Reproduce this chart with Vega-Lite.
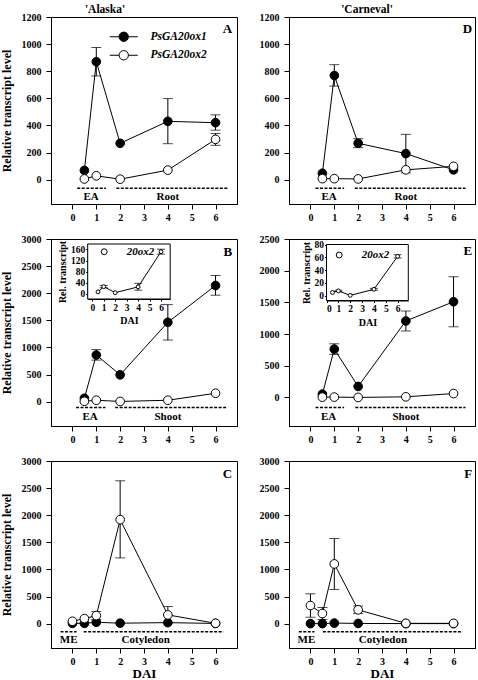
{
 "$schema": "https://vega.github.io/schema/vega-lite/v6.json",
 "autosize": {"type": "none"},
 "padding": {"left": 51, "top": 17, "right": 427, "bottom": 663},
 "config": {
  "font": "Liberation Serif",
  "view": {"stroke": "black", "strokeWidth": 1},
  "axis": {"grid": false, "labelOverlap": false, "labelSeparation": -60, "tickCount": 7, "domainColor": "black", "tickColor": "black", "labelColor": "black", "titleColor": "black", "labelFont": "Liberation Serif", "titleFont": "Liberation Serif", "labelFontWeight": "bold", "labelFontSize": 10, "titleFontWeight": "bold", "tickSize": 5, "labelPadding": 5, "domainWidth": 1, "tickWidth": 1},
  "title": {"font": "Liberation Serif", "fontSize": 11.5, "fontWeight": "bold", "color": "black", "offset": -3.5, "baseline": "bottom", "frame": "group", "anchor": "middle"},
  "text": {"font": "Liberation Serif", "color": "black"},
  "legend": {"labelFont": "Liberation Serif", "labelColor": "black", "padding": 0}
 },
 "datasets": {
  "main": [
   {"panel": "A", "gene": "PsGA20ox1", "dai": 0.5, "value": 68},
   {"panel": "A", "gene": "PsGA20ox1", "dai": 1, "value": 870, "lo": 765, "hi": 975},
   {"panel": "A", "gene": "PsGA20ox1", "dai": 2, "value": 268},
   {"panel": "A", "gene": "PsGA20ox1", "dai": 4, "value": 430, "lo": 265, "hi": 598},
   {"panel": "A", "gene": "PsGA20ox1", "dai": 6, "value": 420, "lo": 365, "hi": 478},
   {"panel": "A", "gene": "PsGA20ox2", "dai": 0.5, "value": 5},
   {"panel": "A", "gene": "PsGA20ox2", "dai": 1, "value": 28},
   {"panel": "A", "gene": "PsGA20ox2", "dai": 2, "value": 3},
   {"panel": "A", "gene": "PsGA20ox2", "dai": 4, "value": 70},
   {"panel": "A", "gene": "PsGA20ox2", "dai": 6, "value": 297, "lo": 253, "hi": 340},
   {"panel": "D", "gene": "PsGA20ox1", "dai": 0.5, "value": 47},
   {"panel": "D", "gene": "PsGA20ox1", "dai": 1, "value": 768, "lo": 690, "hi": 848},
   {"panel": "D", "gene": "PsGA20ox1", "dai": 2, "value": 268, "lo": 236, "hi": 302},
   {"panel": "D", "gene": "PsGA20ox1", "dai": 4, "value": 192, "lo": 50, "hi": 334},
   {"panel": "D", "gene": "PsGA20ox1", "dai": 6, "value": 72},
   {"panel": "D", "gene": "PsGA20ox2", "dai": 0.5, "value": 7},
   {"panel": "D", "gene": "PsGA20ox2", "dai": 1, "value": 7},
   {"panel": "D", "gene": "PsGA20ox2", "dai": 2, "value": 5},
   {"panel": "D", "gene": "PsGA20ox2", "dai": 4, "value": 72},
   {"panel": "D", "gene": "PsGA20ox2", "dai": 6, "value": 98},
   {"panel": "B", "gene": "PsGA20ox1", "dai": 0.5, "value": 62},
   {"panel": "B", "gene": "PsGA20ox1", "dai": 1, "value": 860, "lo": 765, "hi": 960},
   {"panel": "B", "gene": "PsGA20ox1", "dai": 2, "value": 494},
   {"panel": "B", "gene": "PsGA20ox1", "dai": 4, "value": 1463, "lo": 1136, "hi": 1790},
   {"panel": "B", "gene": "PsGA20ox1", "dai": 6, "value": 2142, "lo": 1963, "hi": 2327},
   {"panel": "B", "gene": "PsGA20ox2", "dai": 0.5, "value": 6},
   {"panel": "B", "gene": "PsGA20ox2", "dai": 1, "value": 25},
   {"panel": "B", "gene": "PsGA20ox2", "dai": 2, "value": 3},
   {"panel": "B", "gene": "PsGA20ox2", "dai": 4, "value": 25},
   {"panel": "B", "gene": "PsGA20ox2", "dai": 6, "value": 154},
   {"panel": "E", "gene": "PsGA20ox1", "dai": 0.5, "value": 53},
   {"panel": "E", "gene": "PsGA20ox1", "dai": 1, "value": 763, "lo": 680, "hi": 847},
   {"panel": "E", "gene": "PsGA20ox1", "dai": 2, "value": 174},
   {"panel": "E", "gene": "PsGA20ox1", "dai": 4, "value": 1207, "lo": 1049, "hi": 1364},
   {"panel": "E", "gene": "PsGA20ox1", "dai": 6, "value": 1510, "lo": 1115, "hi": 1905},
   {"panel": "E", "gene": "PsGA20ox2", "dai": 0.5, "value": 5},
   {"panel": "E", "gene": "PsGA20ox2", "dai": 1, "value": 6},
   {"panel": "E", "gene": "PsGA20ox2", "dai": 2, "value": 1},
   {"panel": "E", "gene": "PsGA20ox2", "dai": 4, "value": 10},
   {"panel": "E", "gene": "PsGA20ox2", "dai": 6, "value": 62},
   {"panel": "C", "gene": "PsGA20ox1", "dai": 0, "value": 5},
   {"panel": "C", "gene": "PsGA20ox1", "dai": 0.5, "value": 5},
   {"panel": "C", "gene": "PsGA20ox1", "dai": 1, "value": 25},
   {"panel": "C", "gene": "PsGA20ox1", "dai": 2, "value": 8},
   {"panel": "C", "gene": "PsGA20ox1", "dai": 4, "value": 18},
   {"panel": "C", "gene": "PsGA20ox1", "dai": 6, "value": 3},
   {"panel": "C", "gene": "PsGA20ox2", "dai": 0, "value": 43},
   {"panel": "C", "gene": "PsGA20ox2", "dai": 0.5, "value": 93},
   {"panel": "C", "gene": "PsGA20ox2", "dai": 1, "value": 148, "lo": 73, "hi": 223},
   {"panel": "C", "gene": "PsGA20ox2", "dai": 2, "value": 1918, "lo": 1212, "hi": 2635},
   {"panel": "C", "gene": "PsGA20ox2", "dai": 4, "value": 161, "lo": 7, "hi": 315},
   {"panel": "C", "gene": "PsGA20ox2", "dai": 6, "value": 6},
   {"panel": "F", "gene": "PsGA20ox1", "dai": 0, "value": 0},
   {"panel": "F", "gene": "PsGA20ox1", "dai": 0.5, "value": 0},
   {"panel": "F", "gene": "PsGA20ox1", "dai": 1, "value": 10},
   {"panel": "F", "gene": "PsGA20ox1", "dai": 2, "value": 3},
   {"panel": "F", "gene": "PsGA20ox1", "dai": 4, "value": 0},
   {"panel": "F", "gene": "PsGA20ox1", "dai": 6, "value": 0},
   {"panel": "F", "gene": "PsGA20ox2", "dai": 0, "value": 334, "lo": 118, "hi": 550},
   {"panel": "F", "gene": "PsGA20ox2", "dai": 0.5, "value": 186, "lo": 75, "hi": 297},
   {"panel": "F", "gene": "PsGA20ox2", "dai": 1, "value": 1101, "lo": 630, "hi": 1570},
   {"panel": "F", "gene": "PsGA20ox2", "dai": 2, "value": 254, "lo": 185, "hi": 325},
   {"panel": "F", "gene": "PsGA20ox2", "dai": 4, "value": 5},
   {"panel": "F", "gene": "PsGA20ox2", "dai": 6, "value": 5}
  ],
  "inset": [
   {"panel": "B", "gene": "20ox2", "dai": 0.5, "value": 6},
   {"panel": "B", "gene": "20ox2", "dai": 1, "value": 25, "lo": 21, "hi": 29},
   {"panel": "B", "gene": "20ox2", "dai": 2, "value": 3},
   {"panel": "B", "gene": "20ox2", "dai": 4, "value": 24, "lo": 12, "hi": 37},
   {"panel": "B", "gene": "20ox2", "dai": 6, "value": 152, "lo": 143, "hi": 161},
   {"panel": "E", "gene": "20ox2", "dai": 0.5, "value": 5},
   {"panel": "E", "gene": "20ox2", "dai": 1, "value": 7.5, "lo": 6.5, "hi": 8.5},
   {"panel": "E", "gene": "20ox2", "dai": 2, "value": 0.5},
   {"panel": "E", "gene": "20ox2", "dai": 4, "value": 10, "lo": 8.5, "hi": 11.5},
   {"panel": "E", "gene": "20ox2", "dai": 6, "value": 61.5, "lo": 59, "hi": 64}
  ],
  "stages": [
   {"panel": "A", "label": "EA", "start": 0.2, "end": 1.4, "mid": 0.78},
   {"panel": "A", "label": "Root", "start": 1.84, "end": 6.5, "mid": 4.0},
   {"panel": "D", "label": "EA", "start": 0.21, "end": 1.41, "mid": 0.78},
   {"panel": "D", "label": "Root", "start": 1.86, "end": 6.5, "mid": 4.0},
   {"panel": "B", "label": "EA", "start": 0.15, "end": 1.38, "mid": 0.74},
   {"panel": "B", "label": "Shoot", "start": 1.79, "end": 6.49, "mid": 4.0},
   {"panel": "E", "label": "EA", "start": 0.21, "end": 1.41, "mid": 0.76},
   {"panel": "E", "label": "Shoot", "start": 1.88, "end": 6.5, "mid": 4.0},
   {"panel": "C", "label": "ME", "start": -0.5, "end": 0.17, "mid": -0.16},
   {"panel": "C", "label": "Cotyledon", "start": 0.47, "end": 6.33, "mid": 3.07},
   {"panel": "F", "label": "ME", "start": -0.49, "end": 0.17, "mid": -0.17},
   {"panel": "F", "label": "Cotyledon", "start": 0.52, "end": 6.38, "mid": 3.04}
  ],
  "panels": [
   {"panel": "A", "letter": "A"}, {"panel": "B", "letter": "B"}, {"panel": "C", "letter": "C"},
   {"panel": "D", "letter": "D"}, {"panel": "E", "letter": "E"}, {"panel": "F", "letter": "F"}
  ]
 },
 "columns": 2,
 "spacing": {"row": 35, "column": 52},
 "bounds": "flush",
 "resolve": {"scale": {"x": "independent", "y": "independent", "fill": "independent"}, "legend": {"fill": "independent"}},
 "concat": [
  {
   "width": 186, "height": 187,
   "title": {"text": "'Alaska'", "dx": -39},
   "layer": [
    {"data": {"name": "stages"}, "transform": [{"filter": "datum.panel === 'A'"}],
     "mark": {"type": "rule", "strokeDash": [3, 1.5], "strokeWidth": 1.6, "color": "black"},
     "encoding": {"x": {"field": "start", "type": "quantitative", "scale": {"domain": [-0.9, 6.9], "nice": false, "zero": false}}, "x2": {"field": "end"},
      "y": {"datum": -64, "type": "quantitative", "scale": {"domain": [-180, 1200], "nice": false, "zero": false}}}},
    {"data": {"name": "stages"}, "transform": [{"filter": "datum.panel === 'A'"}],
     "mark": {"type": "text", "fontWeight": "bold", "fontSize": 11, "align": "center", "baseline": "middle"},
     "encoding": {"x": {"field": "mid", "type": "quantitative", "scale": {"domain": [-0.9, 6.9], "nice": false, "zero": false}},
      "y": {"datum": -131, "type": "quantitative", "scale": {"domain": [-180, 1200], "nice": false, "zero": false}}, "text": {"field": "label"}}},
    {"data": {"name": "main"}, "transform": [{"filter": "datum.panel === 'A' && isValid(datum.hi)"}],
     "mark": {"type": "rule", "color": "black", "strokeWidth": 1},
     "encoding": {"x": {"field": "dai", "type": "quantitative", "scale": {"domain": [-0.9, 6.9], "nice": false, "zero": false}},
      "y": {"field": "lo", "type": "quantitative", "scale": {"domain": [-180, 1200], "nice": false, "zero": false}}, "y2": {"field": "hi"}}},
    {"data": {"name": "main"}, "transform": [{"filter": "datum.panel === 'A' && isValid(datum.hi)"}],
     "mark": {"type": "tick", "orient": "horizontal", "size": 10, "thickness": 1, "color": "black"},
     "encoding": {"x": {"field": "dai", "type": "quantitative", "scale": {"domain": [-0.9, 6.9], "nice": false, "zero": false}},
      "y": {"field": "lo", "type": "quantitative", "scale": {"domain": [-180, 1200], "nice": false, "zero": false}}}},
    {"data": {"name": "main"}, "transform": [{"filter": "datum.panel === 'A' && isValid(datum.hi)"}],
     "mark": {"type": "tick", "orient": "horizontal", "size": 10, "thickness": 1, "color": "black"},
     "encoding": {"x": {"field": "dai", "type": "quantitative", "scale": {"domain": [-0.9, 6.9], "nice": false, "zero": false}},
      "y": {"field": "hi", "type": "quantitative", "scale": {"domain": [-180, 1200], "nice": false, "zero": false}}}},
    {"data": {"name": "main"}, "transform": [{"filter": "datum.panel === 'A'"}],
     "mark": {"type": "line", "color": "black", "strokeWidth": 1},
     "encoding": {"x": {"field": "dai", "type": "quantitative", "scale": {"domain": [-0.9, 6.9], "nice": false, "zero": false}},
      "y": {"field": "value", "type": "quantitative", "scale": {"domain": [-180, 1200], "nice": false, "zero": false}}, "detail": {"field": "gene"}}},
    {"data": {"name": "main"}, "transform": [{"filter": "datum.panel === 'A'"}],
     "mark": {"type": "point", "shape": "circle", "filled": true, "stroke": "black", "strokeWidth": 1, "size": 75, "opacity": 1},
     "encoding": {"x": {"field": "dai", "type": "quantitative", "scale": {"domain": [-0.9, 6.9], "nice": false, "zero": false}, "axis": {"values": [0, 1, 2, 3, 4, 5, 6], "labelOverlap": false, "format": "d", "title": null, "labelPadding": 3.5}},
      "y": {"field": "value", "type": "quantitative", "scale": {"domain": [-180, 1200], "nice": false, "zero": false}, "axis": {"values": [0, 200, 400, 600, 800, 1000, 1200], "labelOverlap": false, "format": "d", "title": "Relative transcript level", "titleFontSize": 12, "titlePadding": 8}},
      "fill": {"field": "gene", "type": "nominal", "scale": {"domain": ["PsGA20ox1", "PsGA20ox2"], "range": ["black", "white"]},
       "legend": {"orient": "none", "legendX": 67, "legendY": 14, "title": null, "symbolType": "M-3,0L-1,0M1,0L3,0M-1,0A1,1,0,1,1,1,0A1,1,0,1,1,-1,0Z", "symbolSize": 87, "symbolStrokeColor": "black", "symbolStrokeWidth": 1, "labelFontStyle": "italic", "labelFontWeight": "bold", "labelFontSize": 11.5, "labelOffset": 21, "rowPadding": 4.5}}}},
    {"data": {"name": "panels"}, "transform": [{"filter": "datum.panel === 'A'"}],
     "mark": {"type": "text", "fontWeight": "bold", "fontSize": 13, "align": "right", "baseline": "middle"},
     "encoding": {"x": {"datum": 6.7, "type": "quantitative", "scale": {"domain": [-0.9, 6.9], "nice": false, "zero": false}},
      "y": {"datum": 1108, "type": "quantitative", "scale": {"domain": [-180, 1200], "nice": false, "zero": false}}, "text": {"field": "letter"}}}
   ]
  },
  {
   "width": 186, "height": 187,
   "title": {"text": "'Carneval'", "dx": -15},
   "layer": [
    {"data": {"name": "stages"}, "transform": [{"filter": "datum.panel === 'D'"}],
     "mark": {"type": "rule", "strokeDash": [3, 1.5], "strokeWidth": 1.6, "color": "black"},
     "encoding": {"x": {"field": "start", "type": "quantitative", "scale": {"domain": [-0.9, 6.9], "nice": false, "zero": false}}, "x2": {"field": "end"},
      "y": {"datum": -64, "type": "quantitative", "scale": {"domain": [-180, 1200], "nice": false, "zero": false}}}},
    {"data": {"name": "stages"}, "transform": [{"filter": "datum.panel === 'D'"}],
     "mark": {"type": "text", "fontWeight": "bold", "fontSize": 11, "align": "center", "baseline": "middle"},
     "encoding": {"x": {"field": "mid", "type": "quantitative", "scale": {"domain": [-0.9, 6.9], "nice": false, "zero": false}},
      "y": {"datum": -131, "type": "quantitative", "scale": {"domain": [-180, 1200], "nice": false, "zero": false}}, "text": {"field": "label"}}},
    {"data": {"name": "main"}, "transform": [{"filter": "datum.panel === 'D' && isValid(datum.hi)"}],
     "mark": {"type": "rule", "color": "black", "strokeWidth": 1},
     "encoding": {"x": {"field": "dai", "type": "quantitative", "scale": {"domain": [-0.9, 6.9], "nice": false, "zero": false}},
      "y": {"field": "lo", "type": "quantitative", "scale": {"domain": [-180, 1200], "nice": false, "zero": false}}, "y2": {"field": "hi"}}},
    {"data": {"name": "main"}, "transform": [{"filter": "datum.panel === 'D' && isValid(datum.hi)"}],
     "mark": {"type": "tick", "orient": "horizontal", "size": 10, "thickness": 1, "color": "black"},
     "encoding": {"x": {"field": "dai", "type": "quantitative", "scale": {"domain": [-0.9, 6.9], "nice": false, "zero": false}},
      "y": {"field": "lo", "type": "quantitative", "scale": {"domain": [-180, 1200], "nice": false, "zero": false}}}},
    {"data": {"name": "main"}, "transform": [{"filter": "datum.panel === 'D' && isValid(datum.hi)"}],
     "mark": {"type": "tick", "orient": "horizontal", "size": 10, "thickness": 1, "color": "black"},
     "encoding": {"x": {"field": "dai", "type": "quantitative", "scale": {"domain": [-0.9, 6.9], "nice": false, "zero": false}},
      "y": {"field": "hi", "type": "quantitative", "scale": {"domain": [-180, 1200], "nice": false, "zero": false}}}},
    {"data": {"name": "main"}, "transform": [{"filter": "datum.panel === 'D'"}],
     "mark": {"type": "line", "color": "black", "strokeWidth": 1},
     "encoding": {"x": {"field": "dai", "type": "quantitative", "scale": {"domain": [-0.9, 6.9], "nice": false, "zero": false}},
      "y": {"field": "value", "type": "quantitative", "scale": {"domain": [-180, 1200], "nice": false, "zero": false}}, "detail": {"field": "gene"}}},
    {"data": {"name": "main"}, "transform": [{"filter": "datum.panel === 'D'"}],
     "mark": {"type": "point", "shape": "circle", "filled": true, "stroke": "black", "strokeWidth": 1, "size": 75, "opacity": 1},
     "encoding": {"x": {"field": "dai", "type": "quantitative", "scale": {"domain": [-0.9, 6.9], "nice": false, "zero": false}, "axis": {"values": [0, 1, 2, 3, 4, 5, 6], "labelOverlap": false, "format": "d", "title": null, "labelPadding": 3.5}},
      "y": {"field": "value", "type": "quantitative", "scale": {"domain": [-180, 1200], "nice": false, "zero": false}, "axis": {"values": [0, 200, 400, 600, 800, 1000, 1200], "labelOverlap": false, "format": "d", "title": null}},
      "fill": {"field": "gene", "type": "nominal", "scale": {"domain": ["PsGA20ox1", "PsGA20ox2"], "range": ["black", "white"]}, "legend": null}}},
    {"data": {"name": "panels"}, "transform": [{"filter": "datum.panel === 'D'"}],
     "mark": {"type": "text", "fontWeight": "bold", "fontSize": 13, "align": "right", "baseline": "middle"},
     "encoding": {"x": {"datum": 6.78, "type": "quantitative", "scale": {"domain": [-0.9, 6.9], "nice": false, "zero": false}},
      "y": {"datum": 1108, "type": "quantitative", "scale": {"domain": [-180, 1200], "nice": false, "zero": false}}, "text": {"field": "letter"}}}
   ]
  },
  {
   "width": 186, "height": 187,
   "resolve": {"scale": {"x": "independent", "y": "independent", "fill": "independent"}, "legend": {"fill": "independent"}},
   "layer": [
    {"layer": [
     {"data": {"name": "stages"}, "transform": [{"filter": "datum.panel === 'B'"}],
      "mark": {"type": "rule", "strokeDash": [3, 1.5], "strokeWidth": 1.6, "color": "black"},
      "encoding": {"x": {"field": "start", "type": "quantitative", "scale": {"domain": [-0.9, 6.9], "nice": false, "zero": false}}, "x2": {"field": "end"},
       "y": {"datum": -109, "type": "quantitative", "scale": {"domain": [-450, 3000], "nice": false, "zero": false}}}},
     {"data": {"name": "stages"}, "transform": [{"filter": "datum.panel === 'B'"}],
      "mark": {"type": "text", "fontWeight": "bold", "fontSize": 11, "align": "center", "baseline": "middle"},
      "encoding": {"x": {"field": "mid", "type": "quantitative", "scale": {"domain": [-0.9, 6.9], "nice": false, "zero": false}},
       "y": {"datum": -284, "type": "quantitative", "scale": {"domain": [-450, 3000], "nice": false, "zero": false}}, "text": {"field": "label"}}},
     {"data": {"name": "main"}, "transform": [{"filter": "datum.panel === 'B' && isValid(datum.hi)"}],
      "mark": {"type": "rule", "color": "black", "strokeWidth": 1},
      "encoding": {"x": {"field": "dai", "type": "quantitative", "scale": {"domain": [-0.9, 6.9], "nice": false, "zero": false}},
       "y": {"field": "lo", "type": "quantitative", "scale": {"domain": [-450, 3000], "nice": false, "zero": false}}, "y2": {"field": "hi"}}},
     {"data": {"name": "main"}, "transform": [{"filter": "datum.panel === 'B' && isValid(datum.hi)"}],
      "mark": {"type": "tick", "orient": "horizontal", "size": 10, "thickness": 1, "color": "black"},
      "encoding": {"x": {"field": "dai", "type": "quantitative", "scale": {"domain": [-0.9, 6.9], "nice": false, "zero": false}},
       "y": {"field": "lo", "type": "quantitative", "scale": {"domain": [-450, 3000], "nice": false, "zero": false}}}},
     {"data": {"name": "main"}, "transform": [{"filter": "datum.panel === 'B' && isValid(datum.hi)"}],
      "mark": {"type": "tick", "orient": "horizontal", "size": 10, "thickness": 1, "color": "black"},
      "encoding": {"x": {"field": "dai", "type": "quantitative", "scale": {"domain": [-0.9, 6.9], "nice": false, "zero": false}},
       "y": {"field": "hi", "type": "quantitative", "scale": {"domain": [-450, 3000], "nice": false, "zero": false}}}},
     {"data": {"name": "main"}, "transform": [{"filter": "datum.panel === 'B'"}],
      "mark": {"type": "line", "color": "black", "strokeWidth": 1},
      "encoding": {"x": {"field": "dai", "type": "quantitative", "scale": {"domain": [-0.9, 6.9], "nice": false, "zero": false}},
       "y": {"field": "value", "type": "quantitative", "scale": {"domain": [-450, 3000], "nice": false, "zero": false}}, "detail": {"field": "gene"}}},
     {"data": {"name": "main"}, "transform": [{"filter": "datum.panel === 'B'"}],
      "mark": {"type": "point", "shape": "circle", "filled": true, "stroke": "black", "strokeWidth": 1, "size": 75, "opacity": 1},
      "encoding": {"x": {"field": "dai", "type": "quantitative", "scale": {"domain": [-0.9, 6.9], "nice": false, "zero": false}, "axis": {"values": [0, 1, 2, 3, 4, 5, 6], "labelOverlap": false, "format": "d", "title": null, "labelPadding": 3.5}},
       "y": {"field": "value", "type": "quantitative", "scale": {"domain": [-450, 3000], "nice": false, "zero": false}, "axis": {"values": [0, 500, 1000, 1500, 2000, 2500, 3000], "labelOverlap": false, "format": "d", "title": "Relative transcript level", "titleFontSize": 12, "titlePadding": 8}},
       "fill": {"field": "gene", "type": "nominal", "scale": {"domain": ["PsGA20ox1", "PsGA20ox2"], "range": ["black", "white"]}, "legend": null}}},
     {"data": {"name": "panels"}, "transform": [{"filter": "datum.panel === 'B'"}],
      "mark": {"type": "text", "fontWeight": "bold", "fontSize": 13, "align": "right", "baseline": "middle"},
      "encoding": {"x": {"datum": 6.7, "type": "quantitative", "scale": {"domain": [-0.9, 6.9], "nice": false, "zero": false}},
       "y": {"datum": 2769, "type": "quantitative", "scale": {"domain": [-450, 3000], "nice": false, "zero": false}}, "text": {"field": "letter"}}}
    ]},
    {"layer": [
     {"data": {"name": "panels"}, "transform": [{"filter": "datum.panel === 'B'"}],
      "mark": {"type": "rect", "fill": "white", "stroke": "black", "strokeWidth": 1},
      "encoding": {"x": {"datum": -0.4, "type": "quantitative", "scale": {"domain": [-0.4, 6.8], "range": [36.7, 119.2], "nice": false, "zero": false},
        "axis": {"orient": "bottom", "offset": -127, "values": [0, 1, 2, 3, 4, 5, 6], "labelOverlap": false, "format": "d", "title": "DAI", "titleFontSize": 10, "labelFontSize": 9.5, "tickSize": 2, "labelPadding": 1, "titlePadding": 4}},
       "x2": {"datum": 6.8},
       "y": {"datum": -20, "type": "quantitative", "scale": {"domain": [-20, 180], "range": [60, 5], "nice": false, "zero": false},
        "axis": {"orient": "left", "offset": -36.7, "values": [0, 40, 80, 120, 160], "labelOverlap": false, "format": "d", "title": "Rel. transcript", "titleFontSize": 10, "labelFontSize": 9.5, "tickSize": 2, "labelPadding": 1, "titlePadding": 3}},
       "y2": {"datum": 180}}},
     {"data": {"name": "inset"}, "transform": [{"filter": "datum.panel === 'B' && isValid(datum.hi)"}],
      "mark": {"type": "rule", "color": "black", "strokeWidth": 1},
      "encoding": {"x": {"field": "dai", "type": "quantitative", "scale": {"domain": [-0.4, 6.8], "range": [36.7, 119.2], "nice": false, "zero": false}},
       "y": {"field": "lo", "type": "quantitative", "scale": {"domain": [-20, 180], "range": [60, 5], "nice": false, "zero": false}}, "y2": {"field": "hi"}}},
     {"data": {"name": "inset"}, "transform": [{"filter": "datum.panel === 'B' && isValid(datum.hi)"}],
      "mark": {"type": "tick", "orient": "horizontal", "size": 8, "thickness": 1, "color": "black"},
      "encoding": {"x": {"field": "dai", "type": "quantitative", "scale": {"domain": [-0.4, 6.8], "range": [36.7, 119.2], "nice": false, "zero": false}},
       "y": {"field": "lo", "type": "quantitative", "scale": {"domain": [-20, 180], "range": [60, 5], "nice": false, "zero": false}}}},
     {"data": {"name": "inset"}, "transform": [{"filter": "datum.panel === 'B' && isValid(datum.hi)"}],
      "mark": {"type": "tick", "orient": "horizontal", "size": 8, "thickness": 1, "color": "black"},
      "encoding": {"x": {"field": "dai", "type": "quantitative", "scale": {"domain": [-0.4, 6.8], "range": [36.7, 119.2], "nice": false, "zero": false}},
       "y": {"field": "hi", "type": "quantitative", "scale": {"domain": [-20, 180], "range": [60, 5], "nice": false, "zero": false}}}},
     {"data": {"name": "inset"}, "transform": [{"filter": "datum.panel === 'B'"}],
      "mark": {"type": "line", "color": "black", "strokeWidth": 1},
      "encoding": {"x": {"field": "dai", "type": "quantitative", "scale": {"domain": [-0.4, 6.8], "range": [36.7, 119.2], "nice": false, "zero": false}},
       "y": {"field": "value", "type": "quantitative", "scale": {"domain": [-20, 180], "range": [60, 5], "nice": false, "zero": false}}}},
     {"data": {"name": "inset"}, "transform": [{"filter": "datum.panel === 'B'"}],
      "mark": {"type": "point", "shape": "circle", "filled": true, "stroke": "black", "strokeWidth": 1, "size": 15, "opacity": 1},
      "encoding": {"x": {"field": "dai", "type": "quantitative", "scale": {"domain": [-0.4, 6.8], "range": [36.7, 119.2], "nice": false, "zero": false}},
       "y": {"field": "value", "type": "quantitative", "scale": {"domain": [-20, 180], "range": [60, 5], "nice": false, "zero": false}},
       "fill": {"field": "gene", "type": "nominal", "scale": {"domain": ["20ox2"], "range": ["white"]},
        "legend": {"orient": "none", "legendX": 47.7, "legendY": 7.2, "title": null, "symbolType": "circle", "symbolSize": 35, "symbolStrokeColor": "black", "symbolStrokeWidth": 1, "labelFontStyle": "italic", "labelFontWeight": "bold", "labelFontSize": 11, "labelOffset": 17}}}}
    ]}
   ]
  },
  {
   "width": 186, "height": 187,
   "resolve": {"scale": {"x": "independent", "y": "independent", "fill": "independent"}, "legend": {"fill": "independent"}},
   "layer": [
    {"layer": [
     {"data": {"name": "stages"}, "transform": [{"filter": "datum.panel === 'E'"}],
      "mark": {"type": "rule", "strokeDash": [3, 1.5], "strokeWidth": 1.6, "color": "black"},
      "encoding": {"x": {"field": "start", "type": "quantitative", "scale": {"domain": [-0.9, 6.9], "nice": false, "zero": false}}, "x2": {"field": "end"},
       "y": {"datum": -158, "type": "quantitative", "scale": {"domain": [-450, 2500], "nice": false, "zero": false}}}},
     {"data": {"name": "stages"}, "transform": [{"filter": "datum.panel === 'E'"}],
      "mark": {"type": "text", "fontWeight": "bold", "fontSize": 11, "align": "center", "baseline": "middle"},
      "encoding": {"x": {"field": "mid", "type": "quantitative", "scale": {"domain": [-0.9, 6.9], "nice": false, "zero": false}},
       "y": {"datum": -308, "type": "quantitative", "scale": {"domain": [-450, 2500], "nice": false, "zero": false}}, "text": {"field": "label"}}},
     {"data": {"name": "main"}, "transform": [{"filter": "datum.panel === 'E' && isValid(datum.hi)"}],
      "mark": {"type": "rule", "color": "black", "strokeWidth": 1},
      "encoding": {"x": {"field": "dai", "type": "quantitative", "scale": {"domain": [-0.9, 6.9], "nice": false, "zero": false}},
       "y": {"field": "lo", "type": "quantitative", "scale": {"domain": [-450, 2500], "nice": false, "zero": false}}, "y2": {"field": "hi"}}},
     {"data": {"name": "main"}, "transform": [{"filter": "datum.panel === 'E' && isValid(datum.hi)"}],
      "mark": {"type": "tick", "orient": "horizontal", "size": 10, "thickness": 1, "color": "black"},
      "encoding": {"x": {"field": "dai", "type": "quantitative", "scale": {"domain": [-0.9, 6.9], "nice": false, "zero": false}},
       "y": {"field": "lo", "type": "quantitative", "scale": {"domain": [-450, 2500], "nice": false, "zero": false}}}},
     {"data": {"name": "main"}, "transform": [{"filter": "datum.panel === 'E' && isValid(datum.hi)"}],
      "mark": {"type": "tick", "orient": "horizontal", "size": 10, "thickness": 1, "color": "black"},
      "encoding": {"x": {"field": "dai", "type": "quantitative", "scale": {"domain": [-0.9, 6.9], "nice": false, "zero": false}},
       "y": {"field": "hi", "type": "quantitative", "scale": {"domain": [-450, 2500], "nice": false, "zero": false}}}},
     {"data": {"name": "main"}, "transform": [{"filter": "datum.panel === 'E'"}],
      "mark": {"type": "line", "color": "black", "strokeWidth": 1},
      "encoding": {"x": {"field": "dai", "type": "quantitative", "scale": {"domain": [-0.9, 6.9], "nice": false, "zero": false}},
       "y": {"field": "value", "type": "quantitative", "scale": {"domain": [-450, 2500], "nice": false, "zero": false}}, "detail": {"field": "gene"}}},
     {"data": {"name": "main"}, "transform": [{"filter": "datum.panel === 'E'"}],
      "mark": {"type": "point", "shape": "circle", "filled": true, "stroke": "black", "strokeWidth": 1, "size": 75, "opacity": 1},
      "encoding": {"x": {"field": "dai", "type": "quantitative", "scale": {"domain": [-0.9, 6.9], "nice": false, "zero": false}, "axis": {"values": [0, 1, 2, 3, 4, 5, 6], "labelOverlap": false, "format": "d", "title": null, "labelPadding": 3.5}},
       "y": {"field": "value", "type": "quantitative", "scale": {"domain": [-450, 2500], "nice": false, "zero": false}, "axis": {"values": [0, 500, 1000, 1500, 2000, 2500], "labelOverlap": false, "format": "d", "title": null}},
       "fill": {"field": "gene", "type": "nominal", "scale": {"domain": ["PsGA20ox1", "PsGA20ox2"], "range": ["black", "white"]}, "legend": null}}},
     {"data": {"name": "panels"}, "transform": [{"filter": "datum.panel === 'E'"}],
      "mark": {"type": "text", "fontWeight": "bold", "fontSize": 13, "align": "right", "baseline": "middle"},
      "encoding": {"x": {"datum": 6.78, "type": "quantitative", "scale": {"domain": [-0.9, 6.9], "nice": false, "zero": false}},
       "y": {"datum": 2303, "type": "quantitative", "scale": {"domain": [-450, 2500], "nice": false, "zero": false}}, "text": {"field": "letter"}}}
    ]},
    {"layer": [
     {"data": {"name": "panels"}, "transform": [{"filter": "datum.panel === 'E'"}],
      "mark": {"type": "rect", "fill": "white", "stroke": "black", "strokeWidth": 1},
      "encoding": {"x": {"datum": 0, "type": "quantitative", "scale": {"domain": [0, 6.9], "range": [37.5, 119.3], "nice": false, "zero": false},
        "axis": {"orient": "bottom", "offset": -125.5, "values": [0, 1, 2, 3, 4, 5, 6], "labelOverlap": false, "format": "d", "title": "DAI", "titleFontSize": 10, "labelFontSize": 9.5, "tickSize": 2, "labelPadding": 1, "titlePadding": 4}},
       "x2": {"datum": 6.9},
       "y": {"datum": -7.5, "type": "quantitative", "scale": {"domain": [-7.5, 80], "range": [61.5, 5.5], "nice": false, "zero": false},
        "axis": {"orient": "left", "offset": -37.5, "values": [0, 20, 40, 60, 80], "labelOverlap": false, "format": "d", "title": "Rel. transcript", "titleFontSize": 10, "labelFontSize": 9.5, "tickSize": 2, "labelPadding": 1, "titlePadding": 3}},
       "y2": {"datum": 80}}},
     {"data": {"name": "inset"}, "transform": [{"filter": "datum.panel === 'E' && isValid(datum.hi)"}],
      "mark": {"type": "rule", "color": "black", "strokeWidth": 1},
      "encoding": {"x": {"field": "dai", "type": "quantitative", "scale": {"domain": [0, 6.9], "range": [37.5, 119.3], "nice": false, "zero": false}},
       "y": {"field": "lo", "type": "quantitative", "scale": {"domain": [-7.5, 80], "range": [61.5, 5.5], "nice": false, "zero": false}}, "y2": {"field": "hi"}}},
     {"data": {"name": "inset"}, "transform": [{"filter": "datum.panel === 'E' && isValid(datum.hi)"}],
      "mark": {"type": "tick", "orient": "horizontal", "size": 8, "thickness": 1, "color": "black"},
      "encoding": {"x": {"field": "dai", "type": "quantitative", "scale": {"domain": [0, 6.9], "range": [37.5, 119.3], "nice": false, "zero": false}},
       "y": {"field": "lo", "type": "quantitative", "scale": {"domain": [-7.5, 80], "range": [61.5, 5.5], "nice": false, "zero": false}}}},
     {"data": {"name": "inset"}, "transform": [{"filter": "datum.panel === 'E' && isValid(datum.hi)"}],
      "mark": {"type": "tick", "orient": "horizontal", "size": 8, "thickness": 1, "color": "black"},
      "encoding": {"x": {"field": "dai", "type": "quantitative", "scale": {"domain": [0, 6.9], "range": [37.5, 119.3], "nice": false, "zero": false}},
       "y": {"field": "hi", "type": "quantitative", "scale": {"domain": [-7.5, 80], "range": [61.5, 5.5], "nice": false, "zero": false}}}},
     {"data": {"name": "inset"}, "transform": [{"filter": "datum.panel === 'E'"}],
      "mark": {"type": "line", "color": "black", "strokeWidth": 1},
      "encoding": {"x": {"field": "dai", "type": "quantitative", "scale": {"domain": [0, 6.9], "range": [37.5, 119.3], "nice": false, "zero": false}},
       "y": {"field": "value", "type": "quantitative", "scale": {"domain": [-7.5, 80], "range": [61.5, 5.5], "nice": false, "zero": false}}}},
     {"data": {"name": "inset"}, "transform": [{"filter": "datum.panel === 'E'"}],
      "mark": {"type": "point", "shape": "circle", "filled": true, "stroke": "black", "strokeWidth": 1, "size": 15, "opacity": 1},
      "encoding": {"x": {"field": "dai", "type": "quantitative", "scale": {"domain": [0, 6.9], "range": [37.5, 119.3], "nice": false, "zero": false}},
       "y": {"field": "value", "type": "quantitative", "scale": {"domain": [-7.5, 80], "range": [61.5, 5.5], "nice": false, "zero": false}},
       "fill": {"field": "gene", "type": "nominal", "scale": {"domain": ["20ox2"], "range": ["white"]},
        "legend": {"orient": "none", "legendX": 44.7, "legendY": 10.5, "title": null, "symbolType": "circle", "symbolSize": 35, "symbolStrokeColor": "black", "symbolStrokeWidth": 1, "labelFontStyle": "italic", "labelFontWeight": "bold", "labelFontSize": 11, "labelOffset": 17}}}}
    ]}
   ]
  },
  {
   "width": 186, "height": 187,
   "layer": [
    {"data": {"name": "stages"}, "transform": [{"filter": "datum.panel === 'C'"}],
     "mark": {"type": "rule", "strokeDash": [3, 1.5], "strokeWidth": 1.6, "color": "black"},
     "encoding": {"x": {"field": "start", "type": "quantitative", "scale": {"domain": [-0.9, 6.9], "nice": false, "zero": false}}, "x2": {"field": "end"},
      "y": {"datum": -149, "type": "quantitative", "scale": {"domain": [-450, 3000], "nice": false, "zero": false}}}},
    {"data": {"name": "stages"}, "transform": [{"filter": "datum.panel === 'C'"}],
     "mark": {"type": "text", "fontWeight": "bold", "fontSize": 11, "align": "center", "baseline": "middle"},
     "encoding": {"x": {"field": "mid", "type": "quantitative", "scale": {"domain": [-0.9, 6.9], "nice": false, "zero": false}},
      "y": {"datum": -303, "type": "quantitative", "scale": {"domain": [-450, 3000], "nice": false, "zero": false}}, "text": {"field": "label"}}},
    {"data": {"name": "main"}, "transform": [{"filter": "datum.panel === 'C' && isValid(datum.hi)"}],
     "mark": {"type": "rule", "color": "black", "strokeWidth": 1},
     "encoding": {"x": {"field": "dai", "type": "quantitative", "scale": {"domain": [-0.9, 6.9], "nice": false, "zero": false}},
      "y": {"field": "lo", "type": "quantitative", "scale": {"domain": [-450, 3000], "nice": false, "zero": false}}, "y2": {"field": "hi"}}},
    {"data": {"name": "main"}, "transform": [{"filter": "datum.panel === 'C' && isValid(datum.hi)"}],
     "mark": {"type": "tick", "orient": "horizontal", "size": 10, "thickness": 1, "color": "black"},
     "encoding": {"x": {"field": "dai", "type": "quantitative", "scale": {"domain": [-0.9, 6.9], "nice": false, "zero": false}},
      "y": {"field": "lo", "type": "quantitative", "scale": {"domain": [-450, 3000], "nice": false, "zero": false}}}},
    {"data": {"name": "main"}, "transform": [{"filter": "datum.panel === 'C' && isValid(datum.hi)"}],
     "mark": {"type": "tick", "orient": "horizontal", "size": 10, "thickness": 1, "color": "black"},
     "encoding": {"x": {"field": "dai", "type": "quantitative", "scale": {"domain": [-0.9, 6.9], "nice": false, "zero": false}},
      "y": {"field": "hi", "type": "quantitative", "scale": {"domain": [-450, 3000], "nice": false, "zero": false}}}},
    {"data": {"name": "main"}, "transform": [{"filter": "datum.panel === 'C'"}],
     "mark": {"type": "line", "color": "black", "strokeWidth": 1},
     "encoding": {"x": {"field": "dai", "type": "quantitative", "scale": {"domain": [-0.9, 6.9], "nice": false, "zero": false}},
      "y": {"field": "value", "type": "quantitative", "scale": {"domain": [-450, 3000], "nice": false, "zero": false}}, "detail": {"field": "gene"}}},
    {"data": {"name": "main"}, "transform": [{"filter": "datum.panel === 'C'"}],
     "mark": {"type": "point", "shape": "circle", "filled": true, "stroke": "black", "strokeWidth": 1, "size": 75, "opacity": 1},
     "encoding": {"x": {"field": "dai", "type": "quantitative", "scale": {"domain": [-0.9, 6.9], "nice": false, "zero": false}, "axis": {"values": [0, 1, 2, 3, 4, 5, 6], "labelOverlap": false, "format": "d", "title": "DAI", "titleFontSize": 13, "titlePadding": 1, "labelPadding": 3.5}},
      "y": {"field": "value", "type": "quantitative", "scale": {"domain": [-450, 3000], "nice": false, "zero": false}, "axis": {"values": [0, 500, 1000, 1500, 2000, 2500, 3000], "labelOverlap": false, "format": "d", "title": "Relative transcript level", "titleFontSize": 12, "titlePadding": 8}},
      "fill": {"field": "gene", "type": "nominal", "scale": {"domain": ["PsGA20ox1", "PsGA20ox2"], "range": ["black", "white"]}, "legend": null}}},
    {"data": {"name": "panels"}, "transform": [{"filter": "datum.panel === 'C'"}],
     "mark": {"type": "text", "fontWeight": "bold", "fontSize": 13, "align": "right", "baseline": "middle"},
     "encoding": {"x": {"datum": 6.7, "type": "quantitative", "scale": {"domain": [-0.9, 6.9], "nice": false, "zero": false}},
      "y": {"datum": 2769, "type": "quantitative", "scale": {"domain": [-450, 3000], "nice": false, "zero": false}}, "text": {"field": "letter"}}}
   ]
  },
  {
   "width": 186, "height": 187,
   "layer": [
    {"data": {"name": "stages"}, "transform": [{"filter": "datum.panel === 'F'"}],
     "mark": {"type": "rule", "strokeDash": [3, 1.5], "strokeWidth": 1.6, "color": "black"},
     "encoding": {"x": {"field": "start", "type": "quantitative", "scale": {"domain": [-0.9, 6.9], "nice": false, "zero": false}}, "x2": {"field": "end"},
      "y": {"datum": -149, "type": "quantitative", "scale": {"domain": [-450, 3000], "nice": false, "zero": false}}}},
    {"data": {"name": "stages"}, "transform": [{"filter": "datum.panel === 'F'"}],
     "mark": {"type": "text", "fontWeight": "bold", "fontSize": 11, "align": "center", "baseline": "middle"},
     "encoding": {"x": {"field": "mid", "type": "quantitative", "scale": {"domain": [-0.9, 6.9], "nice": false, "zero": false}},
      "y": {"datum": -303, "type": "quantitative", "scale": {"domain": [-450, 3000], "nice": false, "zero": false}}, "text": {"field": "label"}}},
    {"data": {"name": "main"}, "transform": [{"filter": "datum.panel === 'F' && isValid(datum.hi)"}],
     "mark": {"type": "rule", "color": "black", "strokeWidth": 1},
     "encoding": {"x": {"field": "dai", "type": "quantitative", "scale": {"domain": [-0.9, 6.9], "nice": false, "zero": false}},
      "y": {"field": "lo", "type": "quantitative", "scale": {"domain": [-450, 3000], "nice": false, "zero": false}}, "y2": {"field": "hi"}}},
    {"data": {"name": "main"}, "transform": [{"filter": "datum.panel === 'F' && isValid(datum.hi)"}],
     "mark": {"type": "tick", "orient": "horizontal", "size": 10, "thickness": 1, "color": "black"},
     "encoding": {"x": {"field": "dai", "type": "quantitative", "scale": {"domain": [-0.9, 6.9], "nice": false, "zero": false}},
      "y": {"field": "lo", "type": "quantitative", "scale": {"domain": [-450, 3000], "nice": false, "zero": false}}}},
    {"data": {"name": "main"}, "transform": [{"filter": "datum.panel === 'F' && isValid(datum.hi)"}],
     "mark": {"type": "tick", "orient": "horizontal", "size": 10, "thickness": 1, "color": "black"},
     "encoding": {"x": {"field": "dai", "type": "quantitative", "scale": {"domain": [-0.9, 6.9], "nice": false, "zero": false}},
      "y": {"field": "hi", "type": "quantitative", "scale": {"domain": [-450, 3000], "nice": false, "zero": false}}}},
    {"data": {"name": "main"}, "transform": [{"filter": "datum.panel === 'F'"}],
     "mark": {"type": "line", "color": "black", "strokeWidth": 1},
     "encoding": {"x": {"field": "dai", "type": "quantitative", "scale": {"domain": [-0.9, 6.9], "nice": false, "zero": false}},
      "y": {"field": "value", "type": "quantitative", "scale": {"domain": [-450, 3000], "nice": false, "zero": false}}, "detail": {"field": "gene"}}},
    {"data": {"name": "main"}, "transform": [{"filter": "datum.panel === 'F'"}],
     "mark": {"type": "point", "shape": "circle", "filled": true, "stroke": "black", "strokeWidth": 1, "size": 75, "opacity": 1},
     "encoding": {"x": {"field": "dai", "type": "quantitative", "scale": {"domain": [-0.9, 6.9], "nice": false, "zero": false}, "axis": {"values": [0, 1, 2, 3, 4, 5, 6], "labelOverlap": false, "format": "d", "title": "DAI", "titleFontSize": 13, "titlePadding": 1, "labelPadding": 3.5}},
      "y": {"field": "value", "type": "quantitative", "scale": {"domain": [-450, 3000], "nice": false, "zero": false}, "axis": {"values": [0, 500, 1000, 1500, 2000, 2500, 3000], "labelOverlap": false, "format": "d", "title": null}},
      "fill": {"field": "gene", "type": "nominal", "scale": {"domain": ["PsGA20ox1", "PsGA20ox2"], "range": ["black", "white"]}, "legend": null}}},
    {"data": {"name": "panels"}, "transform": [{"filter": "datum.panel === 'F'"}],
     "mark": {"type": "text", "fontWeight": "bold", "fontSize": 13, "align": "right", "baseline": "middle"},
     "encoding": {"x": {"datum": 6.78, "type": "quantitative", "scale": {"domain": [-0.9, 6.9], "nice": false, "zero": false}},
      "y": {"datum": 2769, "type": "quantitative", "scale": {"domain": [-450, 3000], "nice": false, "zero": false}}, "text": {"field": "letter"}}}
   ]
  }
 ]
}
